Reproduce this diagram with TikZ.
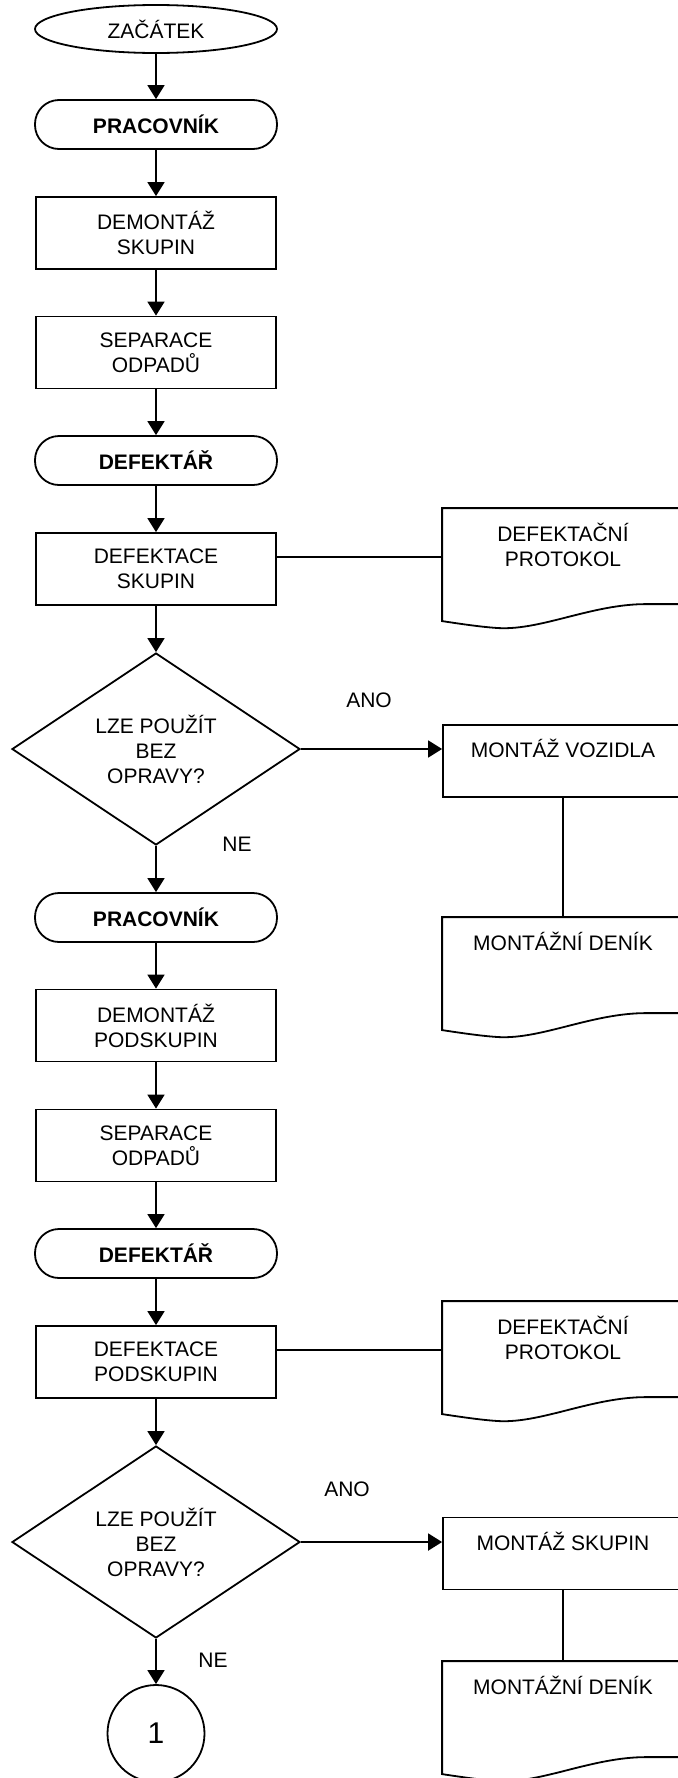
\documentclass[tikz,border=0pt]{standalone}
\usepackage{fontspec}
\setmainfont{Liberation Sans}
\usetikzlibrary{shapes.geometric, arrows.meta, calc}

\begin{document}
\begin{tikzpicture}[x=0.5pt, y=-0.5pt, line width=0.9pt,
    every node/.style={font=\fontsize{10.5}{12.5}\selectfont, inner sep=0pt},
    startnode/.style={ellipse, draw, minimum width=121pt, minimum height=24pt},
    rolebox/.style={rectangle, draw, rounded corners=12pt, minimum width=121pt, minimum height=24.5pt, font=\fontsize{10.5}{12.5}\selectfont\bfseries},
    taskbox/.style={rectangle, draw, align=center, minimum width=120pt, minimum height=36pt},
    decbox/.style={diamond, draw, align=center, minimum width=144pt, minimum height=96pt},
    docbox/.style={rectangle, align=center, minimum width=120pt, minimum height=36pt},
    pagebox/.style={circle, draw, minimum size=48.5pt, font=\fontsize{15}{18}\selectfont},
    flow/.style={-{Triangle[length=7pt, width=8.5pt]}},
]
    \useasboundingbox (0,0) rectangle (677,1778);

    % --- 1. sloupce ---
    \def\xL{156}
    \def\xR{563}

    % --- 2. hlavni tok ---
    \node[startnode] (start) at (\xL,29) {ZAČÁTEK};
    \node[rolebox] (prac1) at (\xL,124.5) {PRACOVNÍK};
    \node[taskbox] (demsk) at (\xL,233) {DEMONTÁŽ\\SKUPIN};
    \node[taskbox] (sep1) at (\xL,352.5) {SEPARACE\\ODPADŮ};
    \node[rolebox] (def1) at (\xL,460.5) {DEFEKTÁŘ};
    \node[taskbox] (defsk) at (\xL,569) {DEFEKTACE\\SKUPIN};
    \node[decbox] (dia1) at (\xL,749) {LZE POUŽÍT\\BEZ\\OPRAVY?};
    \node[rolebox] (prac2) at (\xL,917.5) {PRACOVNÍK};
    \node[taskbox] (dempod) at (\xL,1025.5) {DEMONTÁŽ\\PODSKUPIN};
    \node[taskbox] (sep2) at (\xL,1145.5) {SEPARACE\\ODPADŮ};
    \node[rolebox] (def2) at (\xL,1253.5) {DEFEKTÁŘ};
    \node[taskbox] (defpod) at (\xL,1362) {DEFEKTACE\\PODSKUPIN};
    \node[decbox] (dia2) at (\xL,1542) {LZE POUŽÍT\\BEZ\\OPRAVY?};
    \node[pagebox] (one) at (\xL,1733.5) {1};

    % --- 3. pravy sloupec ---
    \node[docbox] (prot1) at (\xR,545) {DEFEKTAČNÍ\\PROTOKOL};
    \node[taskbox] (montvoz) at (\xR,761) {MONTÁŽ VOZIDLA\\\mbox{}};
    \node[docbox] (denik1) at (\xR,954) {MONTÁŽNÍ DENÍK\\\mbox{}};
    \node[docbox] (prot2) at (\xR,1338) {DEFEKTAČNÍ\\PROTOKOL};
    \node[taskbox] (montsk) at (\xR,1553.5) {MONTÁŽ SKUPIN\\\mbox{}};
    \node[docbox] (denik2) at (\xR,1698) {MONTÁŽNÍ DENÍK\\\mbox{}};

    % --- 4. obrys dokumentu ---
    \def\drawdoc#1{%
      \draw (#1.north west) -- (#1.north east) -- ($(#1.north west)+(240,96)$)
        -- ($(#1.north west)+(204,96)$)
        .. controls ($(#1.north west)+(150,96)$) and ($(#1.north west)+(100,122)$) .. ($(#1.north west)+(57,120)$)
        .. controls ($(#1.north west)+(40,119)$) and ($(#1.north west)+(20,116)$) .. ($(#1.north west)+(0,113)$)
        -- cycle;}
    \drawdoc{prot1}
    \drawdoc{denik1}
    \drawdoc{prot2}
    \drawdoc{denik2}

    % --- 5. popisky ---
    \node (ano1) at (369,700) {ANO};
    \node (ne1) at (237,844) {NE};
    \node (ano2) at (347,1489) {ANO};
    \node (ne2) at (213,1660) {NE};

    % --- 6. spojnice ---
    \draw[flow] (start) -- (prac1);
    \draw[flow] (prac1) -- (demsk);
    \draw[flow] (demsk) -- (sep1);
    \draw[flow] (sep1) -- (def1);
    \draw[flow] (def1) -- (defsk);
    \draw[flow] (defsk) -- (dia1);
    \draw ([yshift=6pt]defsk.east) -- ([yshift=6pt]defsk.east -| prot1.west);
    \draw[flow] (dia1.east) -- (dia1.east -| montvoz.west);
    \draw (montvoz) -- (denik1);
    \draw[flow] (dia1) -- (prac2);
    \draw[flow] (prac2) -- (dempod);
    \draw[flow] (dempod) -- (sep2);
    \draw[flow] (sep2) -- (def2);
    \draw[flow] (def2) -- (defpod);
    \draw[flow] (defpod) -- (dia2);
    \draw ([yshift=6pt]defpod.east) -- ([yshift=6pt]defpod.east -| prot2.west);
    \draw[flow] (dia2.east) -- (dia2.east -| montsk.west);
    \draw (montsk) -- (denik2);
    \draw[flow] (dia2) -- (one);
\end{tikzpicture}
\end{document}
